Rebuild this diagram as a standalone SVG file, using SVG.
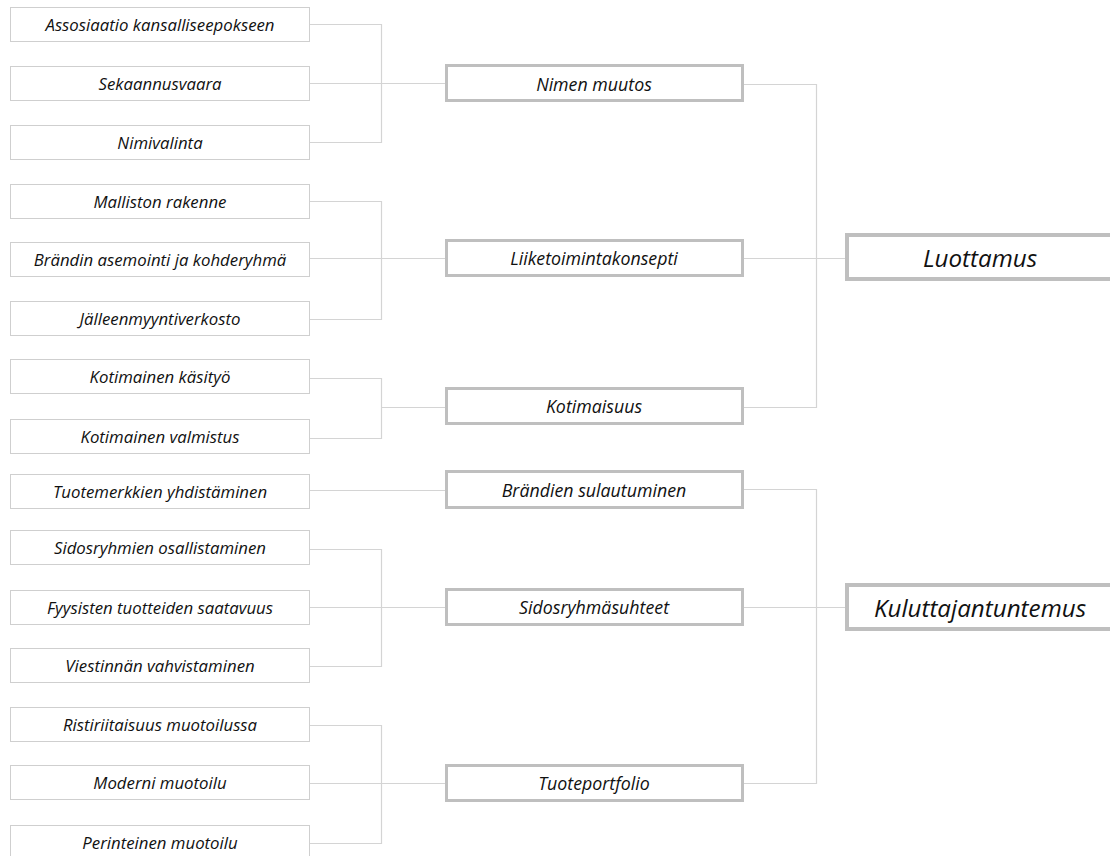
<svg xmlns="http://www.w3.org/2000/svg" width="1110" height="856" viewBox="0 0 1110 856">
  <style>
    .leaf rect { fill: #ffffff; stroke: #cfcfcf; stroke-width: 1; }
    .mid rect { fill: #ffffff; stroke: #bfbfbf; stroke-width: 3; }
    .top rect { fill: #ffffff; stroke: #bfbfbf; stroke-width: 4; }
    text { font-family: "Open Sans", "Liberation Sans", sans-serif; font-style: italic; fill: #111111; text-anchor: middle; dominant-baseline: central; }
    .leaf text { font-size: 16.8px; }
    .mid text { font-size: 17.8px; }
    .top text { font-size: 24.2px; }
    #connectors path { fill: none; stroke: #d4d4d4; stroke-width: 1.2; }
  </style>
  <rect width="1110" height="856" fill="#ffffff"/>

  <!-- connectors -->
  <g id="connectors">
    <!-- leaves to themes -->
    <path d="M309.5 24.5 H381.5 V142.5 H309.5 M309.5 83.5 H445"/>
    <path d="M309.5 201.5 H381.5 V319.5 H309.5 M309.5 258.5 H445"/>
    <path d="M309.5 378.5 H381.5 V438.5 H309.5 M381.5 407.5 H445"/>
    <path d="M309.5 490.5 H445"/>
    <path d="M309.5 549.5 H381.5 V666.5 H309.5 M309.5 607.5 H445"/>
    <path d="M309.5 725.5 H381.5 V843.5 H309.5 M309.5 783.5 H445"/>
    <!-- themes to main concepts -->
    <path d="M744 84.5 H816.5 V407.5 H744 M744 258.5 H845"/>
    <path d="M744 489.5 H816.5 V783.5 H744 M744 607.5 H845"/>
  </g>

  <!-- leaf nodes -->
  <g id="n-assosiaatio" class="leaf"><rect x="10.5" y="7.5" width="299" height="34"/><text x="160" y="24.5">Assosiaatio kansalliseepokseen</text></g>
  <g id="n-sekaannusvaara" class="leaf"><rect x="10.5" y="66.5" width="299" height="34"/><text x="160" y="83.5">Sekaannusvaara</text></g>
  <g id="n-nimivalinta" class="leaf"><rect x="10.5" y="125.5" width="299" height="34"/><text x="160" y="142.5">Nimivalinta</text></g>
  <g id="n-malliston" class="leaf"><rect x="10.5" y="184.5" width="299" height="34"/><text x="160" y="201">Malliston rakenne</text></g>
  <g id="n-asemointi" class="leaf"><rect x="10.5" y="242.5" width="299" height="34"/><text x="160" y="259">Brändin asemointi ja kohderyhmä</text></g>
  <g id="n-jalleenmyynti" class="leaf"><rect x="10.5" y="301.5" width="299" height="34"/><text x="160" y="318.5">Jälleenmyyntiverkosto</text></g>
  <g id="n-kasityo" class="leaf"><rect x="10.5" y="359.5" width="299" height="34"/><text x="160" y="376.5">Kotimainen käsityö</text></g>
  <g id="n-valmistus" class="leaf"><rect x="10.5" y="419.5" width="299" height="34"/><text x="160" y="436.5">Kotimainen valmistus</text></g>
  <g id="n-yhdistaminen" class="leaf"><rect x="10.5" y="474.5" width="299" height="34"/><text x="160" y="491">Tuotemerkkien yhdistäminen</text></g>
  <g id="n-osallistaminen" class="leaf"><rect x="10.5" y="530.5" width="299" height="34"/><text x="160" y="547.5">Sidosryhmien osallistaminen</text></g>
  <g id="n-saatavuus" class="leaf"><rect x="10.5" y="590.5" width="299" height="34"/><text x="160" y="607">Fyysisten tuotteiden saatavuus</text></g>
  <g id="n-viestinta" class="leaf"><rect x="10.5" y="648.5" width="299" height="34"/><text x="160" y="665">Viestinnän vahvistaminen</text></g>
  <g id="n-ristiriita" class="leaf"><rect x="10.5" y="707.5" width="299" height="34"/><text x="160" y="724">Ristiriitaisuus muotoilussa</text></g>
  <g id="n-moderni" class="leaf"><rect x="10.5" y="765.5" width="299" height="34"/><text x="160" y="782.5">Moderni muotoilu</text></g>
  <g id="n-perinteinen" class="leaf"><rect x="10.5" y="825.5" width="299" height="34"/><text x="160" y="842">Perinteinen muotoilu</text></g>

  <!-- theme nodes -->
  <g id="t-nimen-muutos" class="mid"><rect x="446.5" y="65.5" width="296" height="35"/><text x="594" y="83.5">Nimen muutos</text></g>
  <g id="t-liiketoiminta" class="mid"><rect x="446.5" y="240.5" width="296" height="35"/><text x="594" y="258">Liiketoimintakonsepti</text></g>
  <g id="t-kotimaisuus" class="mid"><rect x="446.5" y="388.5" width="296" height="35"/><text x="594" y="406">Kotimaisuus</text></g>
  <g id="t-sulautuminen" class="mid"><rect x="446.5" y="471.5" width="296" height="36"/><text x="594" y="489.5">Brändien sulautuminen</text></g>
  <g id="t-sidosryhma" class="mid"><rect x="446.5" y="589.5" width="296" height="35"/><text x="594" y="607">Sidosryhmäsuhteet</text></g>
  <g id="t-tuoteportfolio" class="mid"><rect x="446.5" y="765.5" width="296" height="35"/><text x="594" y="783">Tuoteportfolio</text></g>

  <!-- main concepts -->
  <g id="c-luottamus" class="top"><rect x="847" y="235" width="300" height="44"/><text x="980" y="257">Luottamus</text></g>
  <g id="c-kuluttajantuntemus" class="top"><rect x="847" y="585" width="300" height="44"/><text x="980" y="607">Kuluttajantuntemus</text></g>
</svg>
